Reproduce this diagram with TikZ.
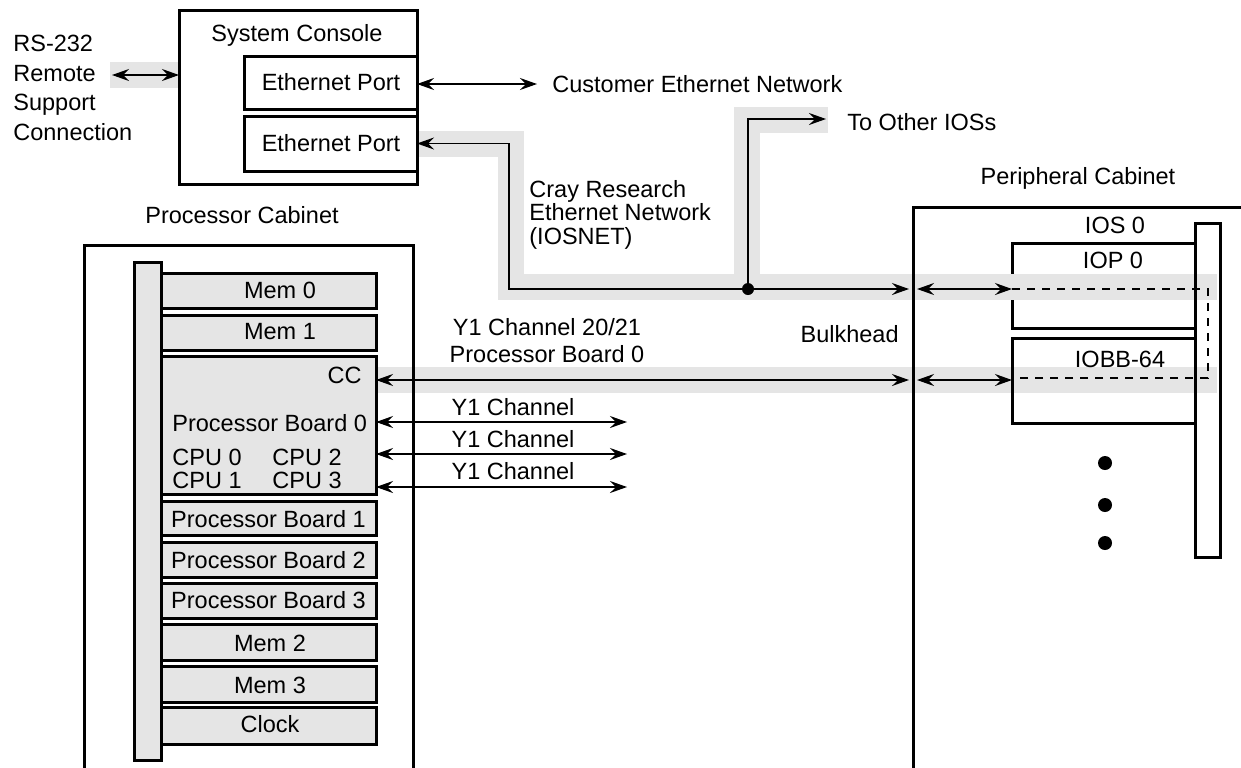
\documentclass[tikz,border=0pt]{standalone}
\usepackage{fontspec}
\setmainfont{Liberation Sans}
\usetikzlibrary{arrows.meta}
\definecolor{bandgray}{gray}{0.9}
\definecolor{boardgray}{gray}{0.9}
\newcommand\lblfont{\fontsize{11.75pt}{14pt}\selectfont}

\begin{document}
\begin{tikzpicture}[x=0.5pt,y=-0.5pt,
  >={Stealth[length=8.5pt,width=6pt,inset=3pt]},
  lbl/.style={font=\lblfont, inner sep=0pt, text height=8.4pt, text depth=0pt},
  block/.style={inner sep=0pt, align=left},
  frame/.style={draw, line width=1.5pt, inner sep=0pt, outer sep=0pt},
  board/.style={frame, fill=boardgray, minimum width=107.5pt},
  band/.style={draw=bandgray, line width=13pt, line join=miter},
  wire/.style={line width=0.65pt},
  dashwire/.style={wire, dash pattern=on 4pt off 3.5pt}]

\useasboundingbox (0,0) rectangle (1241,767);

% IOP box sits under the network band
\node[frame, minimum width=91.5pt, minimum height=42.5pt] (iop) at (1103.5,285.5) {};

% shaded cable runs
\draw[band] (417,144) -- (510.5,144) -- (510.5,286.5) -- (1217,286.5);
\draw[band] (747,286.5) -- (747,120) -- (828,120);
\fill[bandgray] (375,367) rectangle (1217,393);
\fill[bandgray] (110,62) rectangle (179,88);

% system console
\node[frame, minimum width=119pt, minimum height=87pt] (console) at (298,97) {};
\node[lbl] (consolelbl) at (297,33) {System Console};
\node[frame, minimum width=86.5pt, minimum height=26.5pt] (port1) at (330.5,82.5) {};
\node[lbl] (port1lbl) at (331,82) {Ethernet Port};
\node[frame, minimum width=86.5pt, minimum height=27.5pt] (port2) at (330.5,143.5) {};
\node[lbl] (port2lbl) at (331,143) {Ethernet Port};

\node[block, anchor=west, font={\fontsize{11.75pt}{14.75pt}\selectfont}] (rs) at (13,88)
  {RS-232\\Remote\\Support\\Connection};
\coordinate (rsend) at (112,75);
\draw[wire,<->] (rsend) -- (console.west |- rsend);

\node[lbl, anchor=west] (cust) at (552,84) {Customer Ethernet Network};
\draw[wire,<->] (port1.east |- cust.west) -- ([xshift=-7.5pt]cust.west);

% processor cabinet
\node[lbl] (pcablbl) at (242,215) {Processor Cabinet};
\node[frame, minimum width=164.5pt, minimum height=277.5pt] (pcab) at (248.5,522.5) {};
\node[frame, fill=boardgray, minimum width=13.5pt, minimum height=249pt] (backplane) at (147.5,511) {};

\node[board, minimum height=17.5pt] (mem0) at (268.5,290.5) {};
\node[board, minimum height=17.5pt] (mem1) at (268.5,332.5) {};
\node[board, minimum height=69pt] (pb0) at (268.5,425) {};
\node[board, minimum height=17pt] (pb1) at (268.5,518) {};
\node[board, minimum height=17.5pt] (pb2) at (268.5,559.5) {};
\node[board, minimum height=17.5pt] (pb3) at (268.5,600.5) {};
\node[board, minimum height=18pt] (mem2) at (268.5,642) {};
\node[board, minimum height=18pt] (mem3) at (268.5,684) {};
\node[board, minimum height=18.5pt] (clock) at (268.5,725.5) {};

\node[lbl] at (280,290) {Mem 0};
\node[lbl] at (280,331) {Mem 1};
\node[lbl, anchor=east] (cc) at (362,375) {CC};
\node[lbl, anchor=west] (pb0lbl) at (172,423) {Processor Board 0};
\node[block, anchor=west, font={\fontsize{11.75pt}{11.5pt}\selectfont}] (cpua) at (172,468.5) {CPU 0\\CPU 1};
\node[block, anchor=west, font={\fontsize{11.75pt}{11.5pt}\selectfont}] (cpub) at (272,468.5) {CPU 2\\CPU 3};
\node[lbl] at (268.5,519) {Processor Board 1};
\node[lbl] at (268.5,560) {Processor Board 2};
\node[lbl] at (268.5,600) {Processor Board 3};
\node[lbl] at (270,643) {Mem 2};
\node[lbl] at (270,685) {Mem 3};
\node[lbl] at (270,724) {Clock};

% peripheral cabinet and bulkhead
\coordinate (bulktop) at (913,207);
\draw[line width=1.5pt] (913,800) -- (bulktop) -- (1260,207);
\node[lbl] (percablbl) at (1078,176) {Peripheral Cabinet};
\node[lbl, anchor=east] (bulklbl) at (899,334) {Bulkhead};
\node[frame, minimum width=91.5pt, minimum height=42.5pt] (iobb) at (1103.5,380.5) {};
\node[frame, minimum width=12.5pt, minimum height=167pt] (iosbar) at (1207.5,390) {};
\node[lbl] (ioslbl) at (1115,225) {IOS 0};
\node[lbl] (ioplbl) at (1113,260) {IOP 0};
\node[lbl] (iobblbl) at (1120,359) {IOBB-64};
\foreach \yy in {463,505,543} \fill (1105,\yy) circle[radius=3.5pt];

% IOSNET
\coordinate (j) at (748,289);
\coordinate (bk1) at (909,289);
\coordinate (oth) at (826,119);
\draw[wire,<->] (port2.east) -| (509,289) -- (bk1);
\draw[wire,->] (j) |- (oth);
\fill (j) circle[radius=3pt];
\node[lbl, anchor=west] (othlbl) at (847,122) {To Other IOSs};
\node[block, anchor=north west, font={\fontsize{11.75pt}{11.75pt}\selectfont}] (iosnet) at (529,180)
  {Cray Research\\Ethernet Network\\(IOSNET)};
\draw[wire,<->] (917,289) -- (iop.west |- bk1);
\draw[dashwire] (iop.west |- bk1) -- (1208,289) -- (1208,378) -- (iobb.west |- 0,378);

% Y1 channel 20/21 through the bulkhead
\coordinate (bk2) at (909,380);
\draw[wire,<->] (pb0.east |- bk2) -- (bk2);
\draw[wire,<->] (917,380) -- (iobb.west |- bk2);
\node[block, align=center, font={\fontsize{11.75pt}{13.5pt}\selectfont}] (y1lbl) at (547,340.5)
  {Y1 Channel 20/21\\Processor Board 0};

% Y1 channels
\foreach \yy/\ly in {422/407,454/439,487/471} {
  \draw[wire,<->] (pb0.east |- 0,\yy) -- (627,\yy);
  \node[lbl] at (513,\ly) {Y1 Channel};
}

% cabinet edge drawn over the channel lines
\draw[line width=1.5pt] (pcab.north east) -- (pcab.south east);
\end{tikzpicture}
\end{document}
